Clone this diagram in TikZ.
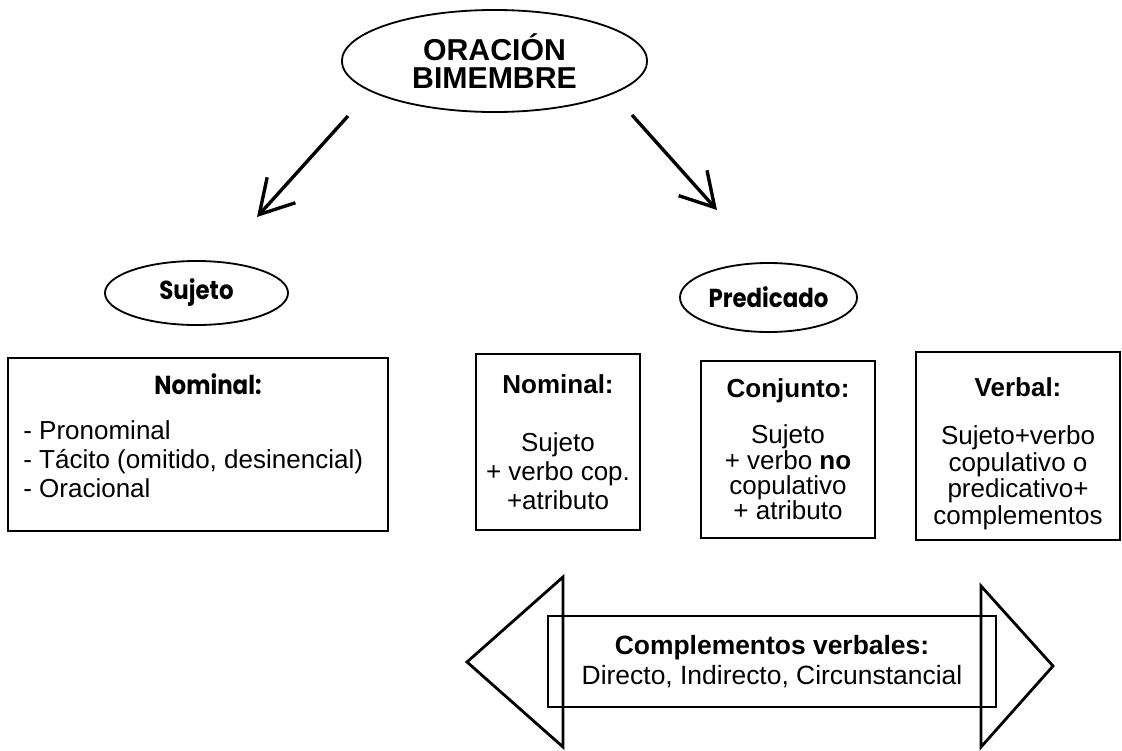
\documentclass[tikz,border=0pt]{standalone}
\usepackage{fontspec}
\setmainfont{Liberation Sans}
\newfontfamily\geofont{Poppins}
\usetikzlibrary{arrows.meta,positioning,shapes.geometric}

\begin{document}
\begin{tikzpicture}[x=0.025cm,y=-0.025cm,
    oval/.style={draw, ellipse, line width=1.3pt, inner sep=0pt},
    caja/.style={draw, line width=1.4pt, inner sep=0pt, align=center},
    texto/.style={font=\fontsize{18.5}{20.6}\selectfont},
    rotulo/.style={font=\geofont\bfseries\fontsize{18.5}{20}\selectfont\addfontfeature{FakeStretch=0.88}},
    flecha/.style={line width=2.4pt, -{Straight Barb[angle=60:27pt]}},
    punta/.style={line width=2pt}]
  \useasboundingbox (0,0) rectangle (1122,750);

  % oracion bimembre
  \node[oval, minimum width=7.63cm, minimum height=2.55cm, align=center,
    font=\bfseries\fontsize{21.5}{19.6}\selectfont] (oracion) at (494.5,61) {ORACIÓN\\BIMEMBRE};
  \coordinate (izq0) at (348,116);
  \coordinate (izq1) at (257,217);
  \coordinate (der0) at (632,115);
  \coordinate (der1) at (717,210);
  \draw[flecha] (izq0) -- (izq1);
  \draw[flecha] (der0) -- (der1);

  % sujeto y predicado
  \node[oval, rotulo, minimum width=4.575cm, minimum height=1.6cm] (sujeto) at (196.5,293) {Sujeto};
  \node[oval, rotulo, minimum width=4.425cm, minimum height=1.725cm] (predicado) at (768.5,297.5) {Predicado};

  % sujeto nominal
  \node[caja, minimum width=9.5cm, minimum height=4.325cm] (sujnom) at (198,444.5) {};
  \node[rotulo] (sujnomtit) at (208,384) {Nominal:};
  \node[texto, align=left, anchor=north west, inner sep=0pt] (sujnomlista) at (23,420)
    {- Pronominal\\- Tácito (omitido, desinencial)\\- Oracional};

  % tipos de predicado
  \node[caja, texto, minimum width=4.1cm, minimum height=4.4cm] (prednom) at (558,442)
    {\textbf{Nominal:}\\[21pt]Sujeto\\+ verbo cop.\\+atributo};
  \node[caja, font=\fontsize{18.5}{18.1}\selectfont, minimum width=4.35cm, minimum height=4.425cm]
    (predconj) at (788,449.5)
    {\textbf{Conjunto:}\\[14.5pt]Sujeto\\+ verbo \textbf{no}\\copulativo\\+ atributo};
  \node[caja, font=\fontsize{18.5}{19}\selectfont, minimum width=5.1cm, minimum height=4.7cm]
    (predverb) at (1018,446)
    {\rule{0pt}{24.6pt}\textbf{Verbal:}\\[15pt]Sujeto+verbo\\copulativo o\\predicativo+\\complementos};

  % complementos
  \node[caja, line width=1.2pt, minimum width=11.2cm, minimum height=2.275cm,
    font=\fontsize{18.8}{21.3}\selectfont] (complementos) at (772,661.5)
    {\textbf{Complementos verbales:}\\Directo, Indirecto, Circunstancial};
  \draw[punta] (563,577) -- (563,747) -- (467,662) -- cycle;
  \draw[punta] (981,586) -- (981,747) -- (1053,666) -- cycle;
\end{tikzpicture}
\end{document}
